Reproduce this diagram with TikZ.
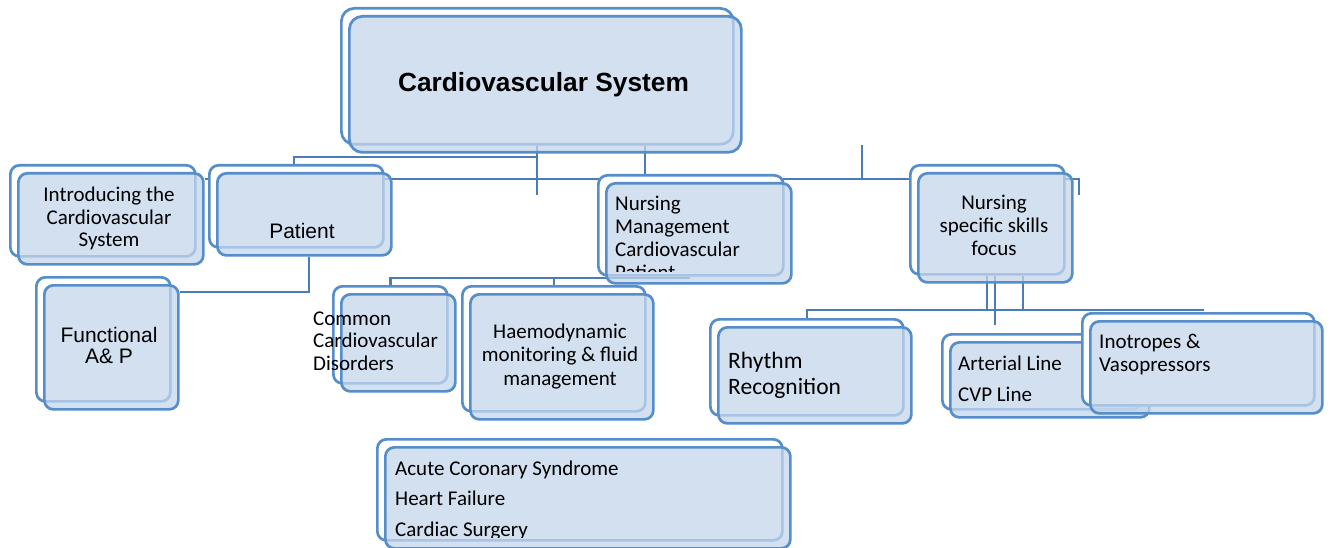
\documentclass[tikz,border=0pt]{standalone}
\usepackage{fontspec}
\setmainfont{Carlito}
\newfontfamily\arialfont{Liberation Sans}
\usetikzlibrary{backgrounds}

\definecolor{boxline}{RGB}{86,142,204}
\definecolor{boxfill}{RGB}{196,214,235}
\definecolor{connline}{RGB}{74,124,182}

\newcommand{\lblstack}[2][l]{\begin{tabular}[t]{@{}#1@{}}#2\end{tabular}}

\begin{document}
\begin{tikzpicture}[x=1pt,y=-1pt,
  back box/.style={draw=boxline,line width=2.7pt,fill=white,rounded corners=9pt,anchor=north west,inner sep=0pt},
  front box/.style={draw=boxline,line width=2.7pt,fill=boxfill,fill opacity=0.75,rounded corners=9pt,anchor=north west,inner sep=0pt},
  box size/.style 2 args={minimum width=#1pt,minimum height=#2pt},
  conn/.style={draw=connline,line width=2.3pt},
  lbl/.style={inner sep=0pt,anchor=base,font=\fontsize{21}{23}\selectfont},
  lbl left/.style={lbl,anchor=base west}]

  \useasboundingbox (0,0) rectangle (1330,548);

  % boxes, each one a white back and a blue front
  \node[back box,box size={392}{136},rounded corners=13pt] (titleb) at (340,7) {};
  \node[front box,box size={392}{136},rounded corners=13pt] (title) at (348,15) {};

  \node[back box,box size={185}{91}] (introb) at (9,164) {};
  \node[front box,box size={185}{91}] (intro) at (17,172) {};
  \node[back box,box size={174}{82}] (patb) at (208,164) {};
  \node[front box,box size={174}{82}] (pat) at (216,172) {};
  \node[back box,box size={134}{124}] (funcb) at (35,276) {};
  \node[front box,box size={134}{124}] (func) at (43,284) {};
  \node[back box,box size={185}{100}] (nmb) at (597,174) {};
  \node[front box,box size={185}{100}] (nm) at (605,182) {};
  \node[back box,box size={154}{109}] (nssb) at (909,164) {};
  \node[front box,box size={154}{109}] (nss) at (917,172) {};

  \node[back box,box size={114}{97}] (commonb) at (332,285) {};
  \node[front box,box size={114}{97}] (common) at (340,293) {};
  \node[back box,box size={183}{125}] (haemob) at (461,285) {};
  \node[front box,box size={183}{125}] (haemo) at (469,293) {};
  \node[back box,box size={405}{101}] (acuteb) at (376,438) {};
  \node[front box,box size={405}{101}] (acute) at (384,446) {};
  \node[back box,box size={193}{96}] (rhythmb) at (709,318) {};
  \node[front box,box size={193}{96}] (rhythm) at (717,326) {};
  \node[back box,box size={199}{75}] (artb) at (941,333) {};
  \node[front box,box size={199}{75}] (art) at (949,341) {};
  \node[back box,box size={232}{92}] (inob) at (1081,312) {};
  \node[front box,box size={232}{92}] (ino) at (1089,320) {};

  % labels
  \node[lbl,font=\arialfont\bfseries\fontsize{26.3}{30}\selectfont] (titlet) at (543.5,92) {Cardiovascular System};
  \node[lbl,font=\fontsize{21}{22.5}\selectfont] (introt) at (109,202) {\lblstack[c]{Introducing the\\Cardiovascular\\System}};
  \node[lbl,font=\arialfont\fontsize{21}{23}\selectfont] (patt) at (302,238) {Patient};
  \node[lbl,font=\arialfont\fontsize{21}{21.5}\selectfont] (funct) at (109,342) {\lblstack[c]{Functional\\A\& P}};
  \begin{scope}
    \clip (600,180) rectangle (792,271);
    \node[lbl left,font=\fontsize{21}{22.7}\selectfont] (nmt) at (615,211) {\lblstack{Nursing\\Management\\Cardiovascular\\Patient}};
  \end{scope}
  \node[lbl] (nsst) at (994,210) {\lblstack[c]{Nursing\\specific skills\\focus}};
  \node[lbl left,font=\fontsize{21}{22.5}\selectfont] (commont) at (313,325) {\lblstack{Common\\Cardiovascular\\Disorders}};
  \node[lbl,font=\fontsize{21}{23.5}\selectfont] (haemot) at (560,338) {\lblstack[c]{Haemodynamic\\monitoring \& fluid\\management}};
  \begin{scope}
    \clip (380,440) rectangle (790,537);
    \node[lbl left,font=\fontsize{21}{30.5}\selectfont] (acutet) at (395,475) {\lblstack{Acute Coronary Syndrome\\Heart Failure\\Cardiac Surgery}};
  \end{scope}
  \node[lbl left,font=\fontsize{23.5}{26}\selectfont] (rhythmt) at (728,368) {\lblstack{Rhythm\\Recognition}};
  \node[lbl left,font=\fontsize{21}{31}\selectfont] (artt) at (958,370) {\lblstack{Arterial Line\\CVP Line}};
  \node[lbl left] (inot) at (1099,348) {\lblstack{Inotropes \&\\Vasopressors}};

  % connectors go behind the boxes
  \begin{pgfonlayer}{background}
    \fill[white] (0,0) rectangle (1330,548);
    \coordinate (tdrop) at (537,195);
    \coordinate (lbus) at (294,157);
    \coordinate (bus) at (1079,179);
    \coordinate (busend) at (1079,195);
    \coordinate (nmtop) at (645,0);
    \coordinate (rtick) at (862,145);
    \coordinate (pbend) at (309,292);
    \coordinate (mbus) at (690,278);
    \coordinate (sbus) at (1204,310);
    \coordinate (s1) at (987,0);
    \coordinate (s2) at (1023,0);
    \coordinate (s3) at (995,325);
    \path[conn]
      (titleb.south -| tdrop) -- (tdrop)
      (patb.north -| lbus) -- (lbus) -- (lbus -| tdrop)
      (intro.east |- bus) -- (bus) -- (busend)
      (titleb.south -| nmtop) -- (nmb.north -| nmtop)
      (rtick) -- (rtick |- bus)
      (pat.south -| pbend) -- (pbend) -- (func.east |- pbend)
      (commonb.north) |- (mbus)
      (haemob.north) -- (haemob.north |- mbus)
      (rhythmb.north) |- (sbus)
      (nssb.south -| s1) -- (s1 |- sbus)
      (nssb.south -| s2) -- (s2 |- sbus)
      (nssb.south -| s3) -- (s3);
  \end{pgfonlayer}
\end{tikzpicture}
\end{document}
